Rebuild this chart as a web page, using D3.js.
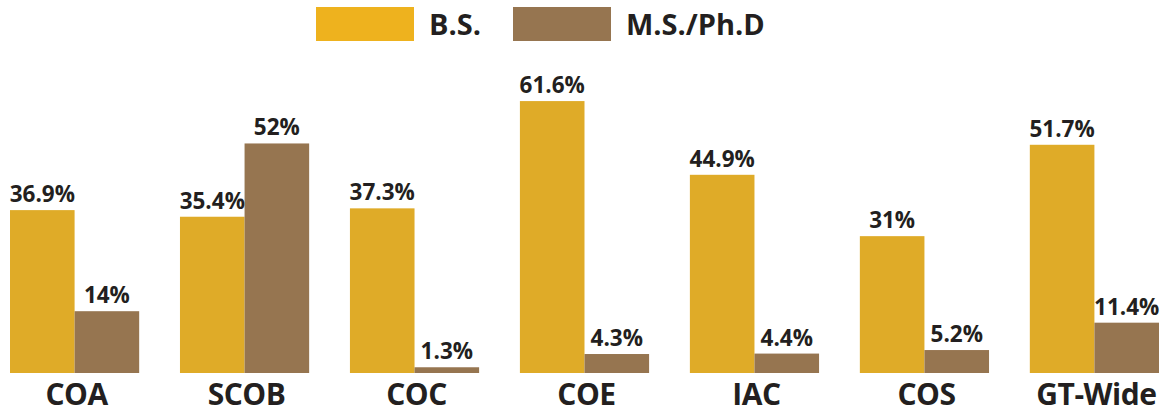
<!DOCTYPE html>
<html>
<head>
<meta charset="utf-8">
<script src="https://cdn.jsdelivr.net/npm/d3@7"></script>
<style>
  body { margin: 0; background: #fff; }
  text { font-family: "Open Sans", "Noto Sans", sans-serif; font-weight: 700; fill: #231f20; }
</style>
</head>
<body>
<div id="chart"></div>
<script>
// Chart data
const colleges = ['COA', 'SCOB', 'COC', 'COE', 'IAC', 'COS', 'GT-Wide'];
const bsValues = [36.9, 35.4, 37.3, 61.6, 44.9, 31, 51.7];
const msValues = [14, 52, 1.3, 4.3, 4.4, 5.2, 11.4];
const seriesNames = ['B.S.', 'M.S./Ph.D'];
const seriesKeys = ['bs', 'ms'];

const width = 1172, height = 415;
const barColors = { bs: '#dfab28', ms: '#967550' };
const legendColors = { bs: '#eeb21e', ms: '#967550' };

const rows = colleges.map((c, i) => ({ college: c, bs: bsValues[i], ms: msValues[i] }));

const svg = d3.select('#chart').append('svg')
  .attr('width', width)
  .attr('height', height);

// Scales
const x0 = d3.scaleBand()
  .domain(colleges)
  .range([10, 1159])
  .paddingInner(0.24)
  .paddingOuter(0);

const x1 = d3.scaleBand()
  .domain(seriesKeys)
  .range([0, x0.bandwidth()]);

const y = d3.scaleLinear()
  .domain([0, 70])
  .range([373, 64]);

// Bars
const groups = svg.selectAll('.group')
  .data(rows)
  .join('g')
  .attr('class', 'group')
  .attr('transform', d => `translate(${x0(d.college)},0)`);

groups.selectAll('rect')
  .data(d => seriesKeys.map(k => ({ key: k, value: d[k] })))
  .join('rect')
  .attr('x', d => x1(d.key))
  .attr('y', d => y(d.value))
  .attr('width', x1.bandwidth())
  .attr('height', d => y(0) - y(d.value))
  .attr('fill', d => barColors[d.key]);

// Value labels
groups.selectAll('.value')
  .data(d => seriesKeys.map(k => ({ key: k, value: d[k] })))
  .join('text')
  .attr('class', 'value')
  .attr('x', d => x1(d.key) + x1.bandwidth() / 2)
  .attr('y', d => y(d.value) - 8)
  .attr('text-anchor', 'middle')
  .attr('font-size', 22.5)
  .text(d => d.value + '%');

// Category labels
svg.selectAll('.cat')
  .data(colleges)
  .join('text')
  .attr('class', 'cat')
  .attr('x', d => x0(d) + x0.bandwidth() / 2 + 2)
  .attr('y', 405)
  .attr('text-anchor', 'middle')
  .attr('font-size', 30)
  .attr('letter-spacing', -0.5)
  .text(d => d);

// Legend
const legendX = [316, 513];
const legend = svg.selectAll('.legend')
  .data(seriesKeys)
  .join('g')
  .attr('class', 'legend')
  .attr('transform', (d, i) => `translate(${legendX[i]},7)`);

legend.append('rect')
  .attr('width', 98)
  .attr('height', 34)
  .attr('fill', d => legendColors[d]);

legend.append('text')
  .attr('x', 113)
  .attr('y', 28)
  .attr('font-size', 29)
  .text((d, i) => seriesNames[i]);
</script>
</body>
</html>
